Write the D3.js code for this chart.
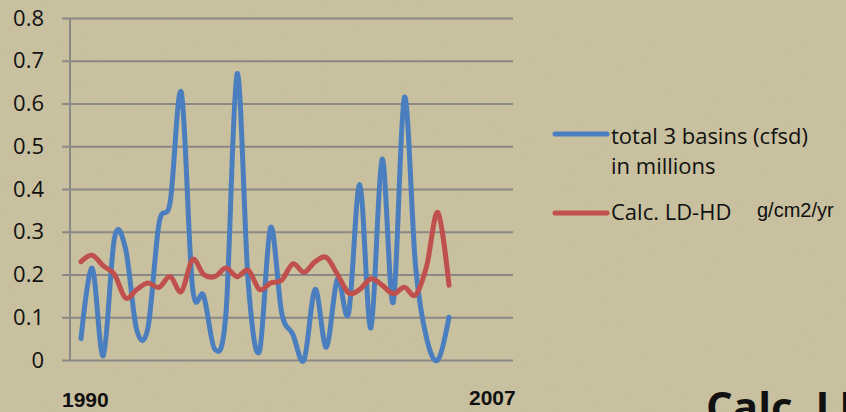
<!DOCTYPE html>
<html>
<head>
<meta charset="utf-8">
<script src="https://cdn.jsdelivr.net/npm/d3@7"></script>
<style>
  html, body { margin: 0; padding: 0; background: #c9c19f; }
  svg { display: block; }
</style>
</head>
<body>
<div id="chart"></div>
<script>
// Values (34 points, 1990-2007)
const basins = [0.05, 0.215, 0.01, 0.285, 0.26, 0.07, 0.075, 0.32, 0.37, 0.625,
  0.17, 0.15, 0.025, 0.11, 0.67, 0.18, 0.02, 0.31, 0.11, 0.06,
  0.0, 0.165, 0.03, 0.19, 0.11, 0.41, 0.075, 0.47, 0.135, 0.615,
  0.22, 0.05, 0.0, 0.10];
const ldhd = [0.23, 0.245, 0.22, 0.2, 0.145, 0.165, 0.18, 0.17, 0.195, 0.16,
  0.235, 0.2, 0.195, 0.215, 0.195, 0.21, 0.165, 0.18, 0.187, 0.225,
  0.205, 0.23, 0.24, 0.2, 0.157, 0.165, 0.19, 0.175, 0.155, 0.17,
  0.152, 0.22, 0.345, 0.175];
const yTicks = [0, 0.1, 0.2, 0.3, 0.4, 0.5, 0.6, 0.7, 0.8];
const yearLabels = ["1990", "2007"];
const seriesNames = ["total 3 basins (cfsd)", "in millions", "Calc. LD-HD", "g/cm2/yr"];

const width = 846, height = 412;
const blue = "#4a7ebf", red = "#c0504d";

const svg = d3.select("#chart")
  .append("svg")
  .attr("width", width)
  .attr("height", height);

// slight paper texture
const defs = svg.append("defs");
const f = defs.append("filter").attr("id", "grain");
f.append("feTurbulence").attr("type", "fractalNoise").attr("baseFrequency", 0.9).attr("numOctaves", 2).attr("seed", 3);
f.append("feColorMatrix").attr("type", "matrix")
  .attr("values", "0 0 0 0 0.45  0 0 0 0 0.42  0 0 0 0 0.35  0 0 0 0.10 0");
f.append("feComposite").attr("in2", "SourceGraphic").attr("operator", "in");

svg.append("rect").attr("width", width).attr("height", height).attr("fill", "#c9c19f");
svg.append("rect").attr("width", width).attr("height", height).attr("fill", "#c9c19f").attr("filter", "url(#grain)");

// Scales
const x = d3.scaleLinear()
  .domain([0, basins.length - 1])
  .range([81, 449]);

const y = d3.scaleLinear()
  .domain([0, 0.8])
  .range([360, 18]);

// Gridlines + tick labels
const yAxis = d3.axisLeft(y)
  .tickValues(yTicks)
  .tickSize(-451)
  .tickFormat(d => d === 0 ? "0" : d3.format(".1f")(d))
  .tickPadding(18);

const gAxis = svg.append("g")
  .attr("transform", "translate(62,0)")
  .call(yAxis);

gAxis.select(".domain").remove();
gAxis.selectAll(".tick line")
  .attr("stroke", "#8a8985")
  .attr("stroke-width", 2);
gAxis.selectAll(".tick text")
  .attr("fill", "#111")
  .style("font-family", "'Open Sans', sans-serif")
  .style("font-size", "22px");

// vertical axis line
svg.append("line")
  .attr("x1", 70).attr("x2", 70)
  .attr("y1", y(0.8)).attr("y2", y(0))
  .attr("stroke", "#8a8985")
  .attr("stroke-width", 2);

// Lines
const line = d3.line()
  .x((d, i) => x(i))
  .y(d => y(d))
  .curve(d3.curveCatmullRom.alpha(0));

svg.append("path")
  .datum(basins)
  .attr("fill", "none")
  .attr("stroke", blue)
  .attr("stroke-width", 5)
  .attr("stroke-linejoin", "round")
  .attr("stroke-linecap", "round")
  .attr("d", line);

svg.append("path")
  .datum(ldhd)
  .attr("fill", "none")
  .attr("stroke", red)
  .attr("stroke-width", 5)
  .attr("stroke-linejoin", "round")
  .attr("stroke-linecap", "round")
  .attr("d", line);

// Year labels
svg.append("text")
  .attr("x", 62).attr("y", 407)
  .style("font-family", "'Liberation Sans', Arial, sans-serif")
  .style("font-weight", "bold")
  .style("font-size", "21px")
  .attr("fill", "#111")
  .text(yearLabels[0]);

svg.append("text")
  .attr("x", 469).attr("y", 405)
  .style("font-family", "'Liberation Sans', Arial, sans-serif")
  .style("font-weight", "bold")
  .style("font-size", "21px")
  .attr("fill", "#111")
  .text(yearLabels[1]);

// Legend
const legend = svg.append("g");
legend.append("line")
  .attr("x1", 555).attr("x2", 607).attr("y1", 134).attr("y2", 134)
  .attr("stroke", blue).attr("stroke-width", 5).attr("stroke-linecap", "round");
legend.append("line")
  .attr("x1", 555).attr("x2", 607).attr("y1", 213).attr("y2", 213)
  .attr("stroke", red).attr("stroke-width", 5).attr("stroke-linecap", "round");

const legendFont = "'Open Sans', sans-serif";
legend.append("text").attr("x", 611).attr("y", 144)
  .style("font-family", legendFont).style("font-size", "22px").attr("fill", "#111")
  .text(seriesNames[0]);
legend.append("text").attr("x", 611).attr("y", 174)
  .style("font-family", legendFont).style("font-size", "22px").attr("fill", "#111")
  .text(seriesNames[1]);

legend.append("text").attr("x", 611).attr("y", 220)
  .style("font-family", legendFont).style("font-size", "22px").attr("fill", "#111")
  .text(seriesNames[2]);
legend.append("text").attr("x", 757).attr("y", 217)
  .style("font-family", "'Liberation Sans', Arial, sans-serif").style("font-size", "20px").attr("fill", "#111")
  .text(seriesNames[3]);

// Title fragment at bottom right, running off the page as in the source
svg.append("text")
  .attr("x", 706).attr("y", 422)
  .style("font-family", "'Open Sans', sans-serif")
  .style("font-weight", "bold")
  .style("font-size", "42px")
  .attr("fill", "#111")
  .text("Calc. LD-HD");
</script>
</body>
</html>
